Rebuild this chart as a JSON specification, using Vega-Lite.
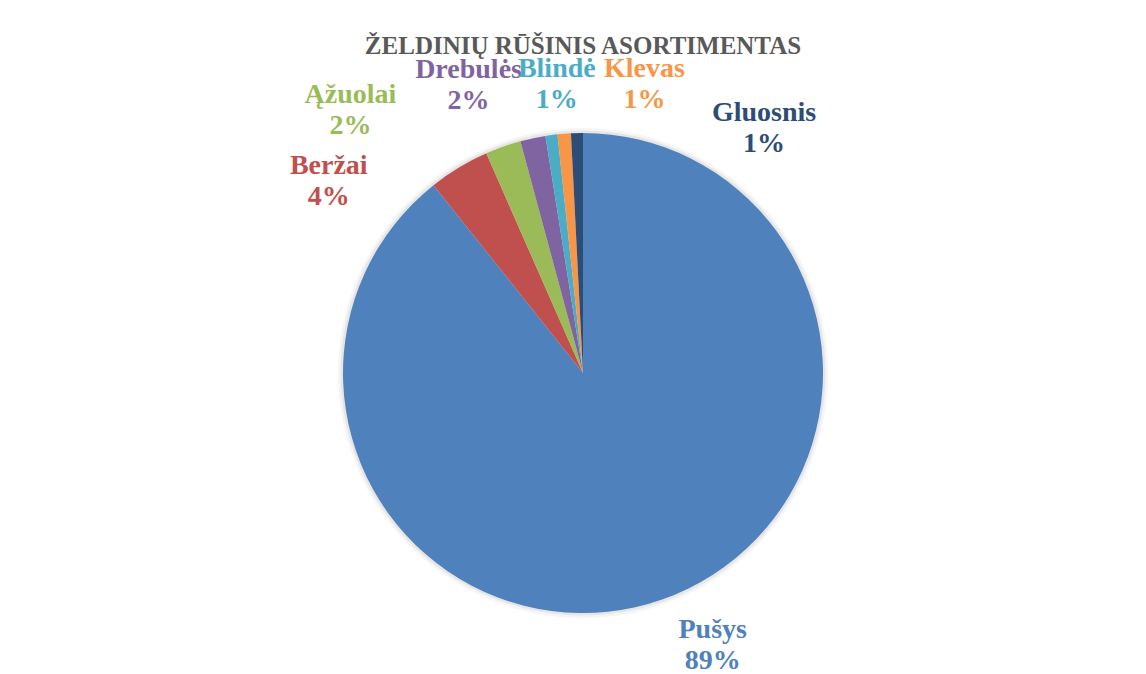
{
  "$schema": "https://vega.github.io/schema/vega-lite/v6.json",
  "width": 600,
  "height": 600,
  "autosize": "none",
  "padding": {"left": 283, "top": 73, "right": 263, "bottom": 1},
  "background": "white",
  "config": {"view": {"stroke": null}},
  "title": {
    "text": "ŽELDINIŲ RŪŠINIS ASORTIMENTAS",
    "font": "Liberation Serif",
    "fontSize": 25,
    "fontWeight": "bold",
    "color": "#595959",
    "anchor": "middle",
    "baseline": "alphabetic",
    "offset": -11,
    "dy": 18
  },
  "data": {
    "values": [
      {"species": "Pušys", "value": 89.3, "rank": 1},
      {"species": "Beržai", "value": 4.1, "rank": 2},
      {"species": "Ąžuolai", "value": 2.4, "rank": 3},
      {"species": "Drebulės", "value": 1.7, "rank": 4},
      {"species": "Blindė", "value": 0.8, "rank": 5},
      {"species": "Klevas", "value": 0.9, "rank": 6},
      {"species": "Gluosnis", "value": 0.8, "rank": 7}
    ]
  },
  "transform": [
    {"calculate": "[datum.species, format(datum.value, '.0f') + '%']", "as": "label"}
  ],
  "encoding": {
    "theta": {"field": "value", "type": "quantitative", "stack": true},
    "order": {"field": "rank", "type": "quantitative", "sort": "ascending"},
    "color": {
      "field": "species",
      "type": "nominal",
      "legend": null,
      "scale": {
        "domain": ["Pušys", "Beržai", "Ąžuolai", "Drebulės", "Blindė", "Klevas", "Gluosnis"],
        "range": ["#4F81BD", "#C0504D", "#9BBB59", "#8064A2", "#4BACC6", "#F79646", "#2C4D75"]
      }
    }
  },
  "layer": [
    {"mark": {"type": "arc", "outerRadius": 245, "color": "#000000", "opacity": 0.04}, "encoding": {"color": {"value": "#000000"}}},
    {"mark": {"type": "arc", "outerRadius": 242.5, "color": "#000000", "opacity": 0.06}, "encoding": {"color": {"value": "#000000"}}},
    {"mark": {"type": "arc", "outerRadius": 240}},
    {"mark": {"type": "text", "radius": 275, "dx": 39, "dy": -3, "font": "Liberation Serif", "fontSize": 28, "fontWeight": "bold", "align": "center", "baseline": "middle", "lineHeight": 31},
     "encoding": {"text": {"condition": {"test": "datum.species === 'Pušys'", "field": "label"}, "value": ""}}},
    {"mark": {"type": "text", "radius": 275, "dx": -112, "dy": 28, "font": "Liberation Serif", "fontSize": 28, "fontWeight": "bold", "align": "center", "baseline": "middle", "lineHeight": 31},
     "encoding": {"text": {"condition": {"test": "datum.species === 'Beržai'", "field": "label"}, "value": ""}}},
    {"mark": {"type": "text", "radius": 275, "dx": -141, "dy": -19, "font": "Liberation Serif", "fontSize": 28, "fontWeight": "bold", "align": "center", "baseline": "middle", "lineHeight": 31},
     "encoding": {"text": {"condition": {"test": "datum.species === 'Ąžuolai'", "field": "label"}, "value": ""}}},
    {"mark": {"type": "text", "radius": 275, "dx": -57, "dy": -34, "font": "Liberation Serif", "fontSize": 28, "fontWeight": "bold", "align": "center", "baseline": "middle", "lineHeight": 31},
     "encoding": {"text": {"condition": {"test": "datum.species === 'Drebulės'", "field": "label"}, "value": ""}}},
    {"mark": {"type": "text", "radius": 275, "dx": 10, "dy": -31, "font": "Liberation Serif", "fontSize": 28, "fontWeight": "bold", "align": "center", "baseline": "middle", "lineHeight": 31},
     "encoding": {"text": {"condition": {"test": "datum.species === 'Blindė'", "field": "label"}, "value": ""}}},
    {"mark": {"type": "text", "radius": 275, "dx": 83, "dy": -30, "font": "Liberation Serif", "fontSize": 28, "fontWeight": "bold", "align": "center", "baseline": "middle", "lineHeight": 31},
     "encoding": {"text": {"condition": {"test": "datum.species === 'Klevas'", "field": "label"}, "value": ""}}},
    {"mark": {"type": "text", "radius": 275, "dx": 188, "dy": 15, "font": "Liberation Serif", "fontSize": 28, "fontWeight": "bold", "align": "center", "baseline": "middle", "lineHeight": 31},
     "encoding": {"text": {"condition": {"test": "datum.species === 'Gluosnis'", "field": "label"}, "value": ""}}}
  ]
}
